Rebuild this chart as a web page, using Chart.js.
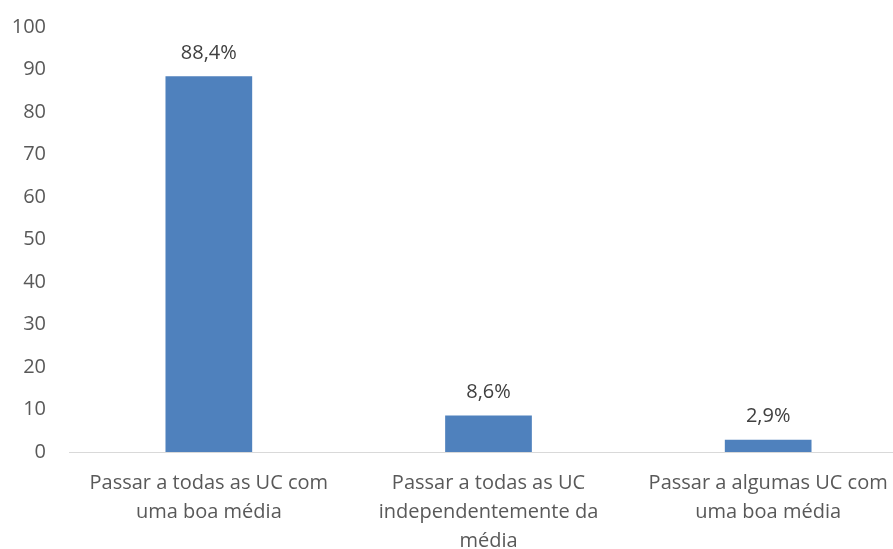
<!DOCTYPE html>
<html>
<head>
<meta charset="utf-8">
<script src="https://cdn.jsdelivr.net/npm/chart.js@4/dist/chart.umd.min.js"></script>
<style>
  html, body { margin: 0; padding: 0; background: #fff; overflow: hidden; }
  #wrap { width: 908px; height: 549px; position: relative; }
</style>
</head>
<body>
<div id="wrap"><canvas id="chart"></canvas></div>
<script>
// values
const categories = [
    ["Passar a todas as UC com", "uma boa média"],
    ["Passar a todas as UC", "independentemente da", "média"],
    ["Passar a algumas UC com", "uma boa média"]
];
const percentages = [88.4, 8.6, 2.9];
const yTicks = [0, 10, 20, 30, 40, 50, 60, 70, 80, 90, 100];

const fontFamily = "'Open Sans', sans-serif";

// draws "88,4%" style labels over each bar
const valueLabels = {
    id: 'valueLabels',
    afterDatasetsDraw(chart) {
        const ctx = chart.ctx;
        const meta = chart.getDatasetMeta(0);
        ctx.save();
        ctx.font = "20px " + fontFamily;
        ctx.fillStyle = '#404040';
        ctx.textAlign = 'center';
        ctx.textBaseline = 'bottom';
        meta.data.forEach(function (bar, i) {
            const txt = percentages[i].toFixed(1).replace('.', ',') + '%';
            ctx.fillText(txt, bar.x, bar.y - 13);
        });
        ctx.restore();
    }
};

new Chart(document.getElementById('chart'), {
    type: 'bar',
    data: {
        labels: categories,
        datasets: [{
            data: percentages,
            backgroundColor: '#4f81bd',
            categoryPercentage: 1,
            barPercentage: 0.31
        }]
    },
    options: {
        responsive: true,
        maintainAspectRatio: false,
        animation: false,
        layout: { padding: { top: -8, left: 0, right: 0, bottom: 0 } },
        plugins: {
            legend: { display: false },
            tooltip: { enabled: false }
        },
        scales: {
            x: {
                grid: { display: false },
                border: { display: true, color: '#d9d9d9', width: 1 },
                ticks: {
                    color: '#595959',
                    font: { family: fontFamily, size: 20, lineHeight: 1.45 },
                    maxRotation: 0,
                    autoSkip: false,
                    padding: 9
                },
                afterFit(scale) { scale.height = 97; }
            },
            y: {
                min: 0,
                max: 100,
                grid: { display: false },
                border: { display: false },
                afterBuildTicks(scale) { scale.ticks = yTicks.map(v => ({ value: v })); },
                ticks: {
                    color: '#595959',
                    font: { family: fontFamily, size: 20 },
                    padding: 15
                },
                afterFit(scale) { scale.width = 69; }
            }
        }
    },
    plugins: [valueLabels]
});
</script>
</body>
</html>
